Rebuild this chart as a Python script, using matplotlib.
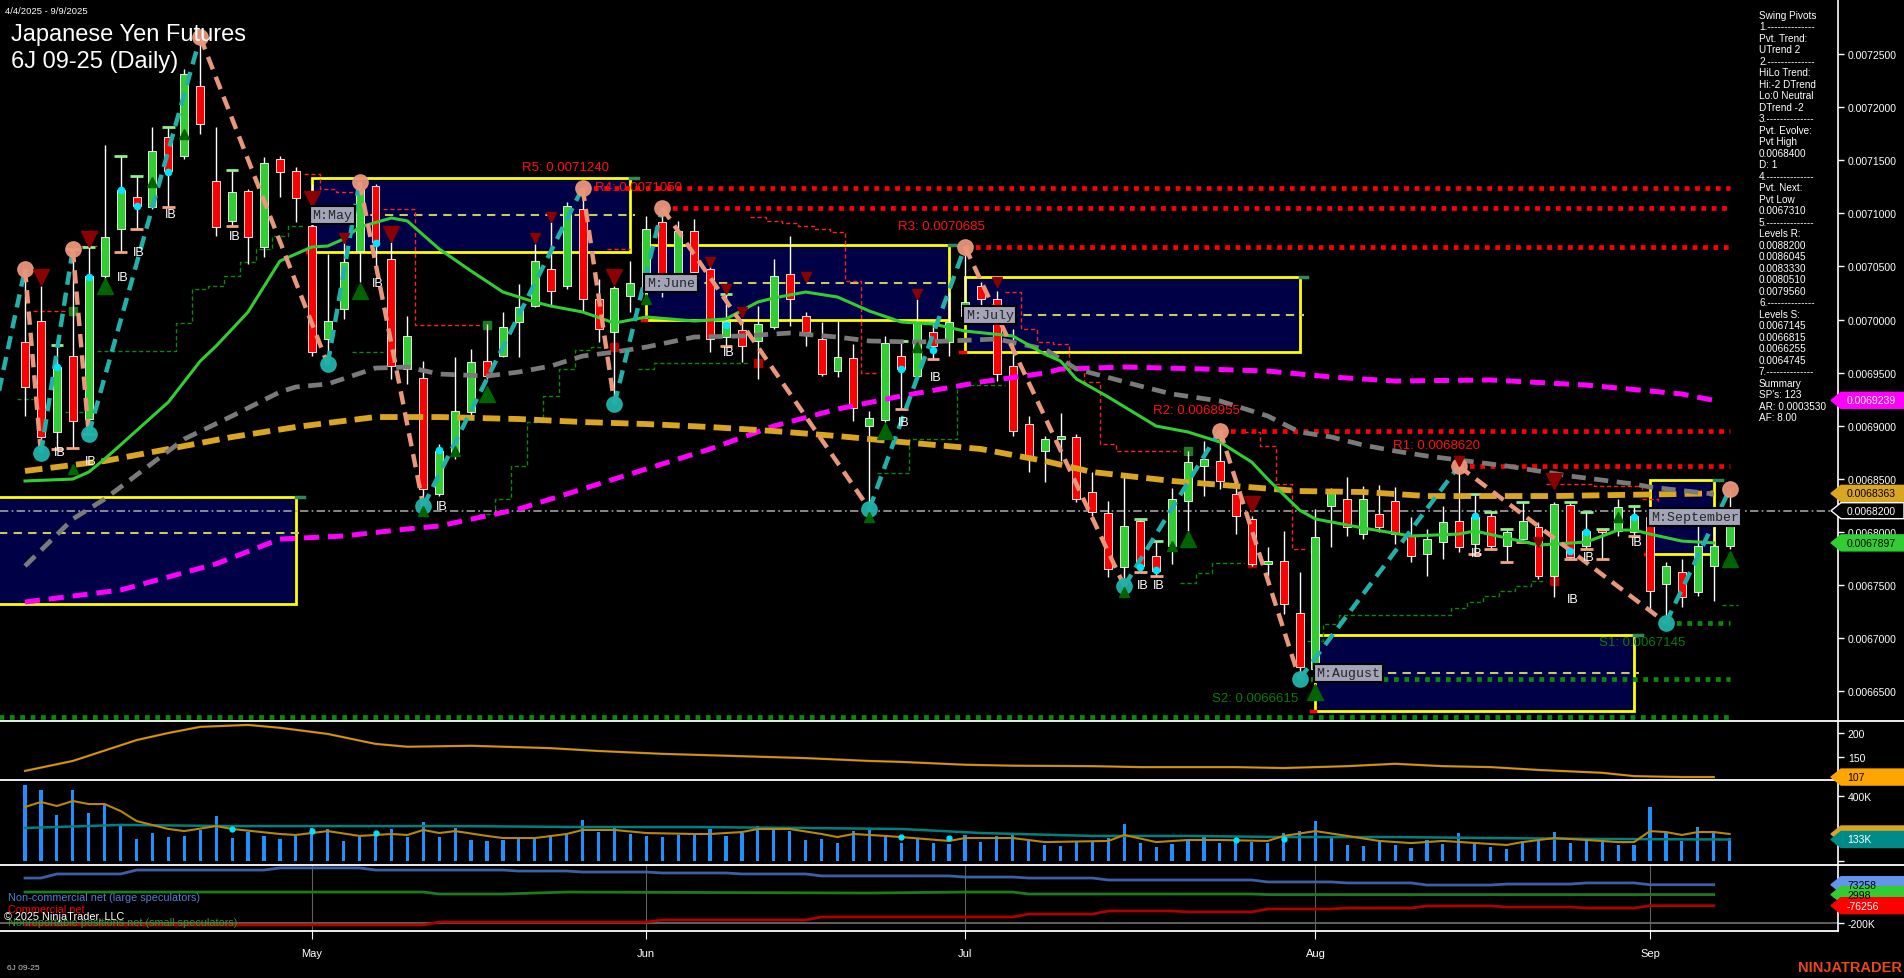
import numpy as np
import matplotlib
matplotlib.use("Agg")
import matplotlib.pyplot as plt
from matplotlib.patches import Rectangle, Polygon
from matplotlib.lines import Line2D
from matplotlib.ticker import FuncFormatter

plt.rcParams['font.family'] = ['Liberation Sans', 'DejaVu Sans']

W, H = 1904, 979
U = 1e-7  # prices below are stored in units of 1e-7

# bar 0 = 4/4/2025 ... bar 107 = 9/9/2025 (trading days)
month_pos = [18, 39, 59, 81, 102]
month_names = ['May', 'Jun', 'Jul', 'Aug', 'Sep']

opens = [69788, 69986, 68941, 69656, 69063, 70410, 70852, 71154, 71060, 71719,
         71540, 72199, 71304, 70928, 71210, 70683, 71511, 71398, 70881, 69817,
         70099, 70645, 71257, 70570, 69534, 69449, 68357, 68753, 69129, 69609,
         69656, 69977, 70127, 70476, 70316, 71041, 70193, 69882, 70221, 70269,
         70918, 70269, 70833, 70476, 69835, 69901, 69798, 69930, 70429, 70033,
         69817, 69515, 69638, 68997, 69054, 69656, 69468, 69882, 69788, 70033,
         70316, 70193, 69562, 69016, 68762, 68875, 68894, 68376, 68178, 67670,
         68103, 67773, 67867, 68291, 68621, 68668, 68357, 68122, 67698, 67726,
         67237, 66709, 68244, 68310, 67980, 68169, 68291, 67962, 67792, 67905,
         68103, 67886, 68150, 67867, 67933, 68046, 67585, 68254, 67867, 68018,
         68009, 67999, 68141, 67510, 67623, 67434, 67679, 67867]
highs = [70476, 70316, 69760, 70664, 70683, 71643, 71540, 71351, 71813, 71813,
         72359, 72660, 71813, 71408, 71229, 71530, 71540, 71436, 71276, 70617,
         70786, 71295, 71276, 70730, 70033, 69609, 68828, 69647, 69722, 69958,
         70071, 70334, 70711, 70918, 71107, 71240, 70382, 70316, 70551, 70975,
         71050, 70928, 70946, 70500, 70240, 70005, 70127, 70570, 70786, 70071,
         69977, 69986, 69769, 69139, 69845, 69798, 70193, 69977, 70259, 70685,
         70353, 70269, 69911, 69092, 68903, 69120, 68922, 68564, 68291, 68527,
         68122, 67915, 68414, 68762, 68856, 68955, 68432, 68150, 67858, 68009,
         67623, 68216, 68414, 68517, 68432, 68442, 68423, 68141, 68028, 68244,
         68620, 68357, 68188, 68028, 68282, 68093, 68282, 68282, 68188, 68028,
         68310, 68244, 68216, 67717, 67745, 68122, 68103, 68400]
lows = [69092, 68740, 68781, 68790, 68922, 70353, 70636, 70852, 71041, 71060,
        71511, 71747, 70786, 70881, 70523, 70589, 71154, 70918, 69656, 69581,
        70005, 70353, 70476, 69440, 69393, 68244, 68338, 68687, 69092, 69440,
        69647, 69647, 70118, 70127, 70287, 70080, 69788, 69205, 70071, 70212,
        70212, 70259, 70259, 69694, 69751, 69600, 69440, 69911, 69939, 69751,
        69468, 69459, 69044, 68216, 69035, 69157, 69459, 69628, 69656, 70005,
        70033, 69421, 68903, 68564, 68470, 68668, 68282, 68150, 67576, 67491,
        67623, 67585, 67698, 68009, 68338, 68404, 67980, 67679, 67585, 67227,
        66615, 66643, 67858, 67962, 67933, 67999, 67886, 67717, 67585, 67745,
        67811, 67792, 67839, 67717, 67905, 67557, 67387, 67745, 67839, 67745,
        67962, 67962, 67246, 67145, 67293, 67397, 67350, 67839]
closes = [69365, 68894, 69553, 69044, 70410, 70777, 71220, 71069, 71587, 71398,
          72312, 71841, 70871, 71201, 70777, 71474, 71389, 71144, 69694, 69986,
          70542, 71229, 70730, 69562, 69845, 68404, 68762, 69139, 69600, 69468,
          69930, 70118, 70551, 70269, 71069, 70193, 69911, 70297, 70344, 70852,
          70316, 70833, 70447, 69817, 69977, 69751, 69958, 70410, 70193, 69882,
          69487, 69647, 69167, 69073, 69779, 69534, 69977, 69751, 69977, 70165,
          70193, 69487, 68950, 68715, 68875, 68903, 68310, 68188, 67651, 68056,
          67679, 67632, 68310, 68658, 68687, 68479, 68150, 67698, 67726, 67321,
          66728, 67952, 68376, 68046, 68310, 68046, 67980, 67773, 67933, 68093,
          67858, 68141, 67867, 67999, 68103, 67585, 68263, 67764, 68009, 67999,
          68235, 68150, 67444, 67679, 67387, 67867, 67867, 68200]

green_ma_x = [0, 3, 4, 5, 9, 11, 12, 14, 16, 17, 18, 19, 20, 21, 23, 24, 26, 28, 30, 32,
              33, 35, 37, 39, 42, 44, 46, 47, 49, 51, 53, 55, 57, 59, 62, 64, 65, 66, 68, 71,
              73, 75, 77, 78, 80, 81, 84, 87, 90, 91, 95, 98, 100, 101, 102, 104, 106]
green_ma_y = [68480, 68498, 68564, 68686, 69223, 69609, 69751, 70071, 70551, 70617,
              70683, 70692, 70758, 70871, 70956, 70928, 70664, 70457, 70259, 70165,
              70127, 70071, 69967, 70024, 69986, 70005, 70165, 70203, 70259, 70212,
              70080, 69977, 69958, 69892, 69845, 69675, 69609, 69440, 69270, 68997,
              68941, 68847, 68658, 68498, 68206, 68122, 68037, 67962, 67980, 68009,
              67877, 67905, 68018, 68018, 67980, 67914, 67897]
gray_ma_x = [0, 3, 5, 10, 13, 16, 17, 19, 22, 24, 26, 29, 31, 33, 35, 37, 39, 42, 45, 48,
             51, 53, 56, 58, 61, 64, 66, 70, 72, 75, 78, 80, 82, 84, 86, 88, 93, 97, 101, 102, 106]
gray_ma_y = [67679, 68122, 68310, 68875, 69092, 69318, 69365, 69393, 69543, 69553,
             69487, 69468, 69506, 69562, 69656, 69694, 69741, 69835, 69845, 69873,
             69835, 69798, 69788, 69798, 69817, 69722, 69534, 69374, 69299, 69233,
             69092, 68941, 68894, 68818, 68762, 68715, 68621, 68526, 68451, 68423, 68357]
gold_ma_x = [0, 5, 9, 13, 17, 19, 22, 26, 31, 35, 39, 43, 47, 51, 55, 60, 64, 67, 72, 76,
             80, 84, 88, 96, 106]
gold_ma_y = [68574, 68668, 68781, 68894, 68988, 69026, 69082, 69082, 69063, 69035,
             69016, 68988, 68950, 68903, 68847, 68781, 68668, 68564, 68480, 68432,
             68385, 68376, 68338, 68338, 68363]
mag_ma_x = [0, 6, 12, 16, 20, 24, 26, 31, 35, 39, 43, 47, 51, 55, 60, 64, 65, 69, 74, 78,
            82, 86, 92, 98, 104, 106]
mag_ma_y = [67340, 67453, 67700, 67933, 67962, 68028, 68056, 68216, 68404, 68593,
            68781, 68997, 69157, 69280, 69412, 69496, 69534, 69553, 69534, 69515,
            69459, 69421, 69431, 69383, 69299, 69239]

# swing pivots (zigzag)
zz_x = [-2, 0, 1, 3, 4, 11, 19, 21, 25, 35, 37, 40, 53, 59, 69, 75, 80, 90, 103, 107]
zz_y = [69070, 70476, 68740, 70664, 68922, 72660, 69581, 71295, 68244, 71240,
        69205, 71050, 68216, 70685, 67491, 68955, 66615, 68620, 67145, 68400]
pivot_highs = [0, 3, 11, 21, 35, 40, 59, 75, 90, 107]

res_names = ['R5', 'R4', 'R3', 'R2', 'R1']
res_vals = [71240, 71050, 70685, 68955, 68620]
res_start = [35, 40, 59, 75, 90]
res_text_x = [33.9, 38.5, 57.5, 73.5, 88.6]
sup_names = ['S1', 'S2', '']
sup_vals = [67145, 66615, 66255]
sup_start = [103, 80, -3]
sup_text_x = [101.5, 77.2, 0]
level_end = 107

# monthly range boxes
box_names = ['', 'M:May', 'M:June', 'M:July', 'M:August', 'M:September']
box_x0 = [-3, 18, 39, 59, 81, 102]
box_x1 = [17, 38, 58, 80, 101, 106]
box_hi = [68329, 71333, 70702, 70400, 67029, 68489]
box_lo = [67321, 70636, 69996, 69694, 66314, 67792]
box_mid = [67990, 70984, 70344, 70042, 66672, 68140]

# trailing stops (step runs)
red_stops = [
    ([0.5, 2.5], [70080, 70080]),
    ([3.5, 4.5], [70692, 70692]),
    ([17.5, 18.5, 19.5, 21], [71370, 71229, 71201, 71201]),
    ([22.5, 24.5, 29], [71041, 69948, 69948]),
    ([36.5, 38], [70664, 70664]),
    ([45.5, 46.5, 47.5, 48.5, 49.5, 50.5, 51.5, 52.5, 53.5],
     [70965, 70928, 70909, 70881, 70852, 70824, 70363, 69496, 69496]),
    ([61.5, 62.5, 63.5, 64.5, 65.5, 66.5, 67.5, 68.5, 72.5],
     [70259, 69911, 69788, 69770, 69534, 69412, 68828, 68762, 68762]),
    ([76.5, 77.5, 78.5, 79.5, 80.5], [68941, 68809, 68451, 67839, 67839]),
    ([95.5, 98.5, 101.5, 102.5], [68451, 68432, 68310, 68282]),
]
green_stops = [
    ([-0.5, 0.5], [69252, 69252]),
    ([2.5, 4], [69129, 69129]),
    ([4.5, 9.5, 10.5, 11.5, 12.5, 13.5, 14.5, 15.5, 16.5, 17.5],
     [69704, 69967, 70287, 70316, 70410, 70542, 70664, 70786, 70881, 70881]),
    ([20.5, 22.5], [69694, 69694]),
    ([28.5, 29.5, 30.5, 31.5, 32.5, 33.5, 34.5, 35.5, 36.5],
     [68169, 68310, 68621, 69035, 69280, 69534, 69713, 69741, 69751]),
    ([38.5, 39.5, 45.5], [69534, 69591, 69591]),
    ([53.5, 55.5, 58.5, 61.5], [68555, 68875, 69383, 69383]),
    ([72.5, 73.5, 74.5, 76.5], [67519, 67613, 67707, 67707]),
    ([80.5, 81.5, 82.5, 89.5, 90.5, 91.5, 92.5, 93.5, 94.5, 95.5],
     [66973, 67133, 67218, 67284, 67340, 67397, 67444, 67491, 67538, 67538]),
    ([106.5, 107.5], [67312, 67312]),
]
red_sq_x = [4, 23, 37, 46, 62, 77, 96]
red_sq_y = [69129, 69694, 69741, 69591, 69383, 67707, 67538]
green_sq_x = [3, 5, 29, 54, 73, 81]
green_sq_y = [70080, 70692, 69948, 69496, 68762, 67839]

dn_x = [1, 4, 18, 20, 23, 32, 33, 37, 43, 44, 45, 49, 56, 61, 77, 90, 95, 96]
dn_y = [70400, 70758, 71135, 70768, 70805, 70768, 70965, 70400, 70542, 70287,
        70071, 70400, 70240, 70353, 68263, 68668, 67905, 68480]
dn_big = [1, 4, 18, 23, 37, 77, 96]
up_x = [3, 5, 8, 10, 21, 25, 27, 29, 39, 53, 54, 56, 69, 72, 73, 81, 100, 107]
up_y = [68592, 70316, 71295, 71747, 70269, 68197, 68762, 69299, 70193, 68140,
        68950, 69741, 67434, 67867, 67933, 66493, 68140, 67745]
up_big = [5, 21, 29, 54, 73, 81, 107]
ib_x = [2, 4, 6, 7, 9, 13, 22, 26, 44, 55, 57, 70, 71, 91, 97, 98, 101]
ib_y = [68753, 68668, 70400, 70636, 70994, 70786, 70344, 68244, 69694, 69035,
        69459, 67500, 67500, 67802, 67368, 67764, 67905]
ib_bars = [2, 3, 4, 6, 7, 9, 13, 44, 55, 57, 70, 71, 91, 92, 93, 94, 97, 98, 99, 101]
dot_x = [2, 4, 6, 7, 9, 22, 26, 44, 55, 57, 70, 71, 91, 97, 98, 101]
dot_y = [69553, 70400, 71220, 71069, 71389, 70720, 68772, 69948, 69534, 69713,
         67670, 67641, 68150, 67820, 67999, 68140]
last_price = 68200

# lower panels
adx_x = [0, 3, 7, 9, 11, 14, 16, 19, 22, 24, 28, 33, 36, 40, 44, 49, 53, 55, 59, 62,
         67, 70, 73, 76, 79, 83, 86, 89, 92, 95, 99, 101, 104, 106]
adx_y = [120, 141, 185, 200, 213, 217, 211, 198, 177, 171, 173, 168, 162, 156, 152,
         147, 141, 139, 133, 131, 130, 128, 128, 128, 126, 130, 135, 130, 128, 122,
         116, 109, 107, 107]

volume_k = [470, 439, 284, 439, 297, 352, 216, 136, 173, 148,
            155, 192, 278, 142, 179, 155, 136, 155, 204, 198,
            124, 148, 155, 198, 148, 241, 148, 204, 130, 124,
            130, 136, 142, 161, 167, 253, 179, 210, 167, 155,
            148, 161, 161, 198, 155, 173, 216, 204, 185, 130,
            136, 111, 185, 204, 155, 111, 136, 111, 105, 161,
            117, 155, 161, 124, 99, 93, 117, 117, 142, 229,
            111, 87, 105, 124, 161, 111, 136, 117, 111, 173,
            185, 247, 142, 99, 93, 117, 99, 80, 130, 105,
            173, 111, 87, 74, 124, 130, 179, 111, 136, 130,
            99, 99, 334, 173, 124, 210, 179, 142]
vma_x = [0, 1, 2, 3, 4, 5, 6, 7, 9, 10, 12, 13, 16, 17, 19, 21, 23, 24, 25, 26,
         27, 29, 30, 32, 34, 35, 37, 39, 42, 43, 45, 46, 48, 50, 51, 52, 54, 55, 58, 59,
         62, 64, 68, 69, 71, 73, 75, 78, 79, 81, 83, 85, 87, 89, 93, 94, 96, 98, 100, 101,
         102, 103, 104, 105, 106, 107]
vma_y = [334, 365, 340, 371, 352, 352, 309, 247, 198, 185, 216, 198, 167, 161, 185,
         155, 167, 161, 192, 173, 185, 155, 142, 142, 167, 192, 192, 173, 167, 167,
         179, 198, 198, 167, 148, 167, 155, 148, 124, 142, 142, 117, 124, 161, 117,
         130, 130, 124, 155, 185, 155, 124, 111, 124, 99, 117, 142, 130, 117, 117,
         185, 179, 161, 179, 179, 167]
tma_x = [0, 6, 13, 20, 27, 35, 42, 49, 55, 60, 67, 73, 79, 86, 92, 99, 107]
tma_y = [204, 223, 216, 216, 216, 210, 210, 204, 198, 173, 155, 155, 148, 148, 142, 136, 133]
vdot_x = [13, 18, 22, 55, 58, 76, 79]
vdot_y = [198, 185, 173, 148, 142, 130, 135]

cot_nc_x = [0, 1, 2, 6, 7, 15, 16, 21, 22, 30, 31, 34, 35, 39, 40, 44, 45, 49, 50, 58,
            59, 62, 63, 67, 68, 77, 78, 82, 83, 87, 88, 92, 93, 97, 98, 101, 102, 106]
cot_nc_y = [121, 121, 150, 150, 178, 178, 193, 193, 178, 178, 171, 171, 164, 164, 157,
            157, 150, 150, 136, 136, 128, 128, 121, 121, 107, 107, 93, 93, 86, 86, 71, 71,
            78, 78, 86, 86, 73.258, 73.258]
cot_sm_x = [0, 25, 26, 30, 34, 53, 59, 62, 63, 77, 78, 106]
cot_sm_y = [21, 21, 7, 7, 21, 14, 21, 21, 7, 7, 2.998, 2.998]
cot_cm_x = [0, 25, 26, 39, 40, 49, 50, 62, 63, 67, 68, 72, 73, 77, 78, 82, 83, 87, 88,
            92, 93, 97, 98, 101, 102, 106]
cot_cm_y = [-214, -214, -193, -193, -178, -178, -157, -157, -136, -136, -114, -114,
            -121, -121, -100, -100, -93, -93, -78, -78, -86, -86, -93, -93, -76.256, -76.256]

swing_text = ["Swing Pivots", "1.--------------", "Pvt. Trend:", "UTrend 2",
              "2.--------------", "HiLo Trend:", "Hi:-2 DTrend", "Lo:0 Neutral", "DTrend -2",
              "3.--------------", "Pvt. Evolve:", "Pvt High", "0.0068400", "D: 1",
              "4.--------------", "Pvt. Next:", "Pvt Low", "0.0067310",
              "5.--------------", "Levels R:", "0.0088200", "0.0086045", "0.0083330",
              "0.0080510", "0.0079560", "6.--------------", "Levels S:", "0.0067145",
              "0.0066815", "0.0066255", "0.0064745", "7.--------------", "Summary",
              "SP's: 123", "AR: 0.0003530", "AF: 8.00"]

# ---------------------------------------------------------------
fig = plt.figure(figsize=(W / 100, H / 100), dpi=100, facecolor='black')
XL = (-1.57, 113.8)


def panel(top, bottom):
    a = fig.add_axes([0, 1 - bottom / H, 1838 / W, (bottom - top) / H])
    a.set_facecolor('black')
    for s in ('top', 'left', 'bottom'):
        a.spines[s].set_visible(False)
    a.spines['right'].set_color('white')
    a.spines['right'].set_linewidth(1.2)
    a.yaxis.tick_right()
    a.tick_params(axis='y', colors='white', labelsize=7.5, length=4, width=1, pad=3)
    a.tick_params(axis='x', bottom=False, labelbottom=False)
    a.set_xlim(*XL)
    return a


ax = panel(0, 722)
adx = panel(722, 781)
vol = panel(781, 866)
cot = panel(866, 932)

ov = fig.add_axes([0, 0, 1, 1], zorder=50)
ov.set_xlim(0, W)
ov.set_ylim(0, H)
ov.axis('off')
ov.patch.set_alpha(0)

# ---- main price panel ----
ax.set_ylim(66220 * U, 73018 * U)
ax.set_yticks(np.arange(66500, 72501, 500) * U)
ax.yaxis.set_major_formatter(FuncFormatter(lambda v, _: f'{v:.7f}'))

o = np.array(opens) * U
hi = np.array(highs) * U
lo = np.array(lows) * U
c = np.array(closes) * U
idx = np.arange(len(o))

for x0, x1, bh, bl, bm, name in zip(box_x0, box_x1, box_hi, box_lo, box_mid, box_names):
    ax.add_patch(Rectangle((x0, bl * U), x1 - x0, (bh - bl) * U, facecolor='#000046',
                           edgecolor='#ffff00', lw=2, zorder=1))
    ax.plot([x0, x1 + 0.3], [bm * U] * 2, color='#c8c864', lw=1.5, dashes=(4, 3), zorder=1.5)
    ax.plot([x0 - 0.3, x0], [bl * U] * 2, color='#ff0000', lw=2.5, zorder=1.6)
    ax.plot([x1, x1 + 0.5], [bh * U] * 2, color='#2e8b57', lw=2.5, zorder=1.6)
    if name:
        ax.text(x0 + 0.05, bm * U, name, fontfamily=['Liberation Mono', 'DejaVu Sans Mono'],
                fontsize=9.5, color='#262626', va='center', ha='left', zorder=12,
                bbox=dict(boxstyle='square,pad=0.2', fc='#a4a4b8', ec='black', lw=1.5))

ax.axhline(last_price * U, color='#a0a0a0', lw=1.2, dashes=(5, 2, 1, 2), zorder=2)

for xs, ys in red_stops:
    ax.step(xs, np.array(ys) * U, where='post', color='#ff2020', lw=1, dashes=(3, 2), zorder=2)
for xs, ys in green_stops:
    ax.step(xs, np.array(ys) * U, where='post', color='#0a8a0a', lw=1, dashes=(3, 2), zorder=2)
ax.plot(red_sq_x, np.array(red_sq_y) * U, 's', ms=6, color='#b00000', zorder=4)
ax.plot(green_sq_x, np.array(green_sq_y) * U, 's', ms=6, color='#1e7a1e', zorder=4)

for n, v, s, tx in zip(res_names, res_vals, res_start, res_text_x):
    ax.plot([s, level_end], [v * U] * 2, color='#ff0000', lw=3.4, linestyle=(0, (1, 1.2)),
            solid_capstyle='butt', zorder=3)
    ax.annotate(f'{n}: {v * U:.7f}', (tx, v * U), xytext=(0, 15), textcoords='offset points',
                color='#ff1010', fontsize=9.5, ha='center', va='center', zorder=12)
for n, v, s, tx in zip(sup_names, sup_vals, sup_start, sup_text_x):
    ax.plot([s, level_end], [v * U] * 2, color='#0a8a0a', lw=3.4, linestyle=(0, (1, 1.2)),
            solid_capstyle='butt', zorder=3)
    if n:
        ax.annotate(f'{n}: {v * U:.7f}', (tx, v * U), xytext=(0, -14),
                    textcoords='offset points', color='#0a7a0a', fontsize=9.5,
                    ha='center', va='center', zorder=12)

# candles
up = c >= o
ax.vlines(idx, lo, hi, color='white', lw=1, zorder=5)
ax.bar(idx[up], np.maximum((c - o)[up], 4 * U), bottom=o[up], width=0.5, color='#32cd32',
       edgecolor='white', lw=0.6, zorder=6)
ax.bar(idx[~up], np.maximum((o - c)[~up], 4 * U), bottom=c[~up], width=0.5, color='#ff0000',
       edgecolor='white', lw=0.6, zorder=6)

# inside-bar high / low ticks
ib = np.array(ib_bars)
ax.hlines(hi[ib], ib - 0.4, ib + 0.4, color='#90ee90', lw=2, zorder=6.5)
ax.hlines(lo[ib], ib - 0.4, ib + 0.4, color='#f4a582', lw=2, zorder=6.5)

# moving averages
ax.plot(mag_ma_x, np.array(mag_ma_y) * U, color='#ff00ff', lw=3.6, dashes=(3, 1.8), zorder=7)
ax.plot(gold_ma_x, np.array(gold_ma_y) * U, color='#daa520', lw=4.2, dashes=(3, 1.4), zorder=7)
ax.plot(gray_ma_x, np.array(gray_ma_y) * U, color='#7a7a7a', lw=3.4, dashes=(3, 1.8), zorder=7)
ax.plot(green_ma_x, np.array(green_ma_y) * U, color='#32cd32', lw=2.2, zorder=7)

# zigzag swing legs
for k in range(len(zz_x) - 1):
    rising = zz_y[k + 1] > zz_y[k]
    ax.plot(zz_x[k:k + 2], np.array(zz_y[k:k + 2]) * U,
            color='#20b2aa' if rising else '#e9967a', lw=3.2, dashes=(3, 1.8),
            zorder=8)
for x, y in zip(zz_x[1:], zz_y[1:]):
    ax.plot(x, y * U, 'o', ms=11, color='#e9967a' if x in pivot_highs else '#20b2aa',
            alpha=0.95, zorder=9)

for x, y in zip(dn_x, dn_y):
    ax.plot(x, y * U, 'v', ms=11 if x in dn_big else 7, color='#8b0000', zorder=9)
for x, y in zip(up_x, up_y):
    ax.plot(x, y * U, '^', ms=11 if x in up_big else 7, color='#006400', zorder=9)
ax.plot(dot_x, np.array(dot_y) * U, 'o', ms=4.5, color='#00e5ff', zorder=10, lw=0)
for x, y in zip(ib_x, ib_y):
    ax.text(x + 0.15, y * U, 'IB', color='white', fontsize=9, ha='center', va='center',
            zorder=11)

# ---- ADX-like panel ----
adx.set_ylim(100.8, 225.3)
adx.set_yticks([150, 200])
adx.plot(adx_x, adx_y, color='#b8860b', lw=1.6)
adx.plot(adx_x, adx_y, color='#ffa500', lw=0.6, alpha=0.7)

# ---- volume panel ----
vol.set_ylim(-24.7, 500.8)
vol.set_yticks([0, 200, 400])
vol.set_yticklabels(['', '', '400K'])
vol.bar(idx, volume_k, width=0.2, color='#1e90ff', zorder=2)
vol.plot(tma_x, tma_y, color='#008080', lw=1.8, zorder=3)
vol.plot(vma_x, vma_y, color='#b8860b', lw=1.5, zorder=4)
vol.plot(vdot_x, vdot_y, 'o', ms=3.5, color='#00e5ff', zorder=5)

# ---- COT panel ----
cot.set_ylim(-257, 214)
cot.set_yticks([-200])
cot.set_yticklabels(['-200K'])
cot.axhline(-200, color='#707070', lw=1.2)
for m in month_pos:
    cot.axvline(m, color='#606060', lw=0.8)
cot.plot(cot_nc_x, cot_nc_y, color='#3d5fa8', lw=2)
cot.plot(cot_sm_x, cot_sm_y, color='#1f7a1f', lw=2)
cot.plot(cot_cm_x, cot_cm_y, color='#b00000', lw=2)
cot.set_xticks(month_pos)
cot.set_xticklabels(month_names)
cot.tick_params(axis='x', bottom=True, labelbottom=True, colors='white', length=6,
                labelsize=8, pad=6)

# separators
for yy, xe in ((722, 1.0), (781, 1.0), (866, 1.0), (932, 1838 / W)):
    fig.add_artist(Line2D([0, xe], [1 - yy / H] * 2, color='white', lw=1.3))


def tag(a, value, label, fc, tc, ec=None):
    y = a.transData.transform((0, value))[1]
    pts = [(1831, y), (1841, y + 8), (1904, y + 8), (1904, y - 8), (1841, y - 8)]
    ov.add_patch(Polygon(pts, closed=True, fc=fc, ec=ec or fc, lw=1))
    ov.text(1847, y, label, color=tc, fontsize=7.5, va='center', ha='left')


tag(ax, mag_ma_y[-1] * U, f'{mag_ma_y[-1] * U:.7f}', '#ff00ff', 'white')
tag(ax, gold_ma_y[-1] * U, f'{gold_ma_y[-1] * U:.7f}', '#daa520', 'black')
tag(ax, last_price * U, f'{last_price * U:.7f}', 'black', 'white', ec='white')
tag(ax, green_ma_y[-1] * U, f'{green_ma_y[-1] * U:.7f}', '#32cd32', 'black')
tag(adx, adx_y[-1], f'{adx_y[-1]}', '#ffa500', 'black')
tag(vol, vma_y[-1], '', '#daa520', 'black')
tag(vol, tma_y[-1], f'{tma_y[-1]}K', '#008b8b', 'white')
tag(cot, cot_nc_y[-1], f'{cot_nc_y[-1] * 1000:.0f}', '#6495ed', 'black')
tag(cot, cot_sm_y[-1], f'{cot_sm_y[-1] * 1000:.0f}', '#32cd32', 'black')
tag(cot, cot_cm_y[-1], f'{cot_cm_y[-1] * 1000:.0f}', '#ff0000', 'white')

# texts
ov.text(5, H - 12, '4/4/2025 - 9/9/2025', color='white', fontsize=6.8, va='center')
ov.text(11, H - 35, 'Japanese Yen Futures', color='white', fontsize=17, va='center')
ov.text(11, H - 62, '6J 09-25 (Daily)', color='white', fontsize=17, va='center')
for k, s in enumerate(swing_text):
    ov.text(1759, H - (16 + 11.49 * k), s, color='white', fontsize=7.2, va='center')

ov.text(8, H - 898, 'Non-commercial net (large speculators)', color='#4f7fdc', fontsize=7.8,
        va='center')
ov.text(8, H - 910, 'Commercial net', color='#ff0000', fontsize=7.8, va='center')
ov.text(8, H - 923, 'Nonreportable positions net (small speculators)', color='#2e9b2e',
        fontsize=7.8, va='center')
ov.text(4, H - 917, '\u00a9 2025 NinjaTrader, LLC', color='white', fontsize=7.8, va='center')
ov.text(7, H - 969, '6J 09-25', color='#c8c8c8', fontsize=6, va='center')
ov.text(1902, H - 968, 'NINJATRADER', color='#e8481c', fontsize=10.5, fontweight='bold',
        va='center', ha='right')

fig.savefig('out.png', dpi=100, facecolor='black')
